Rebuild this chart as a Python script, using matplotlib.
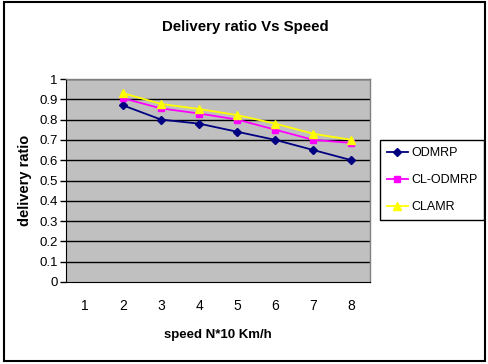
import numpy as np
import matplotlib
matplotlib.use('Agg')
import matplotlib.pyplot as plt
from matplotlib.patches import Rectangle

# data (category 1 has no value)
speed = [1, 2, 3, 4, 5, 6, 7, 8]
odmrp = [np.nan, 0.87, 0.80, 0.78, 0.74, 0.70, 0.65, 0.60]
cl_odmrp = [np.nan, 0.905, 0.855, 0.83, 0.80, 0.75, 0.70, 0.685]
clamr = [np.nan, 0.93, 0.877, 0.852, 0.822, 0.78, 0.73, 0.70]
yticks = [0, 0.1, 0.2, 0.3, 0.4, 0.5, 0.6, 0.7, 0.8, 0.9, 1]
ytick_labels = ['0', '0.1', '0.2', '0.3', '0.4', '0.5', '0.6', '0.7', '0.8', '0.9', '1']

plt.rcParams['font.family'] = ['Liberation Sans', 'DejaVu Sans']

fig = plt.figure(figsize=(4.89, 3.64), dpi=100)
ax = fig.add_axes([66/489, 1 - 282/364, 304.5/489, 203/364])
ax.set_facecolor('#c0c0c0')

# gridlines
for y in yticks[1:]:
    ax.axhline(y, color='black', lw=1, zorder=1)

ax.plot(speed, odmrp, color='#000080', marker='D', markersize=4.5, lw=1.3, label='ODMRP', zorder=3)
ax.plot(speed, cl_odmrp, color='#ff00ff', marker='s', markersize=4.5, lw=1.3, label='CL-ODMRP', zorder=4)
ax.plot(speed, clamr, color='#ffff00', marker='^', markersize=5.5, lw=1.3, label='CLAMR', zorder=5)

ax.set_xlim(0.5, 8.5)
ax.set_ylim(0, 1)
ax.set_yticks(yticks)
ax.set_yticklabels(ytick_labels, fontsize=9.5)
ax.set_xticks(speed)
ax.set_xticklabels([str(s) for s in speed], fontsize=10)
ax.tick_params(axis='y', direction='out', length=4, width=1, pad=2)
ax.tick_params(axis='x', length=0, pad=12)

for side in ['top', 'right']:
    ax.spines[side].set_color('#808080')
    ax.spines[side].set_linewidth(1)
ax.spines['left'].set_color('black')
ax.spines['bottom'].set_color('black')

ax.set_ylabel('delivery ratio', fontsize=10.5, fontweight='bold', labelpad=5)
ax.set_xlabel('speed N*10 Km/h', fontsize=9.5, fontweight='bold', labelpad=12)
fig.suptitle('Delivery ratio Vs Speed', x=245/489, y=1 - 27/364, va='center',
             fontsize=10.8, fontweight='bold')

leg = fig.legend(loc='center left', bbox_to_anchor=(380/489, 1 - 180/364),
                 fontsize=9, fancybox=False, edgecolor='black', framealpha=1,
                 borderpad=0.55, labelspacing=1.2, handlelength=1.7, handletextpad=0.25,
                 borderaxespad=0)
leg.get_frame().set_linewidth(1)

# outer chart border
fig.patches.append(Rectangle((4/489, 3/364), 481/489, 359/364, transform=fig.transFigure,
                             fill=False, edgecolor='black', lw=1.5))

fig.savefig('out.png', dpi=100)
